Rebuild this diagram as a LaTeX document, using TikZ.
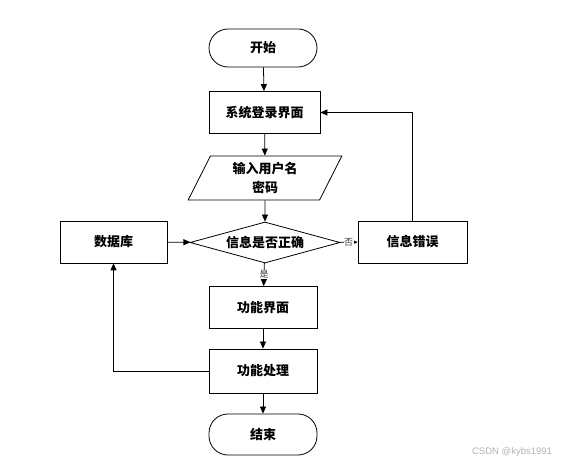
\documentclass[tikz,border=0pt]{standalone}
\usepackage{fontspec}
\newfontfamily\cjk{Noto Sans CJK SC}
\newfontfamily\wmfont{Liberation Sans}
\usetikzlibrary{arrows.meta,shapes.geometric}

\begin{document}
\begin{tikzpicture}[x=1pt, y=-1pt, >={Triangle[length=7pt,width=6pt]},
  line width=0.8pt,
  cntext/.style={font=\cjk\bfseries\fontsize{13}{19}\selectfont},
  box/.style={draw, fill=white, cntext, minimum width=108pt, minimum height=42pt},
  term/.style={box, rounded corners=19pt, minimum height=38pt},
  iobox/.style={draw, fill=white, cntext, align=center, trapezium,
    trapezium left angle=69, trapezium right angle=111,
    trapezium stretches=true, minimum width=154pt, minimum height=44pt},
  check/.style={draw, fill=white, cntext, diamond, inner sep=0pt,
    shape aspect=3.66, minimum width=150pt, minimum height=41pt},
  yesno/.style={fill=white, inner sep=0.5pt, text=black!75,
    font=\cjk\fontsize{9}{10}\selectfont}]
\useasboundingbox (0,0) rectangle (582,465);

% main column
\node[term] (start) at (263,48) {开始};
\node[box, minimum width=111pt] (login) at (264.5,112.5) {系统登录界面};
\node[iobox] (input) at (265,178) {输入用户名\\密码};
\node[check] (ok) at (265,242.5) {信息是否正确};
\node[box] (func) at (263,307.5) {功能界面};
\node[box, minimum height=44pt] (proc) at (263,371) {功能处理};
\node[term, minimum height=41pt] (stop) at (263,434.5) {结束};

% side boxes
\node[box, minimum width=107pt] (db) at (113.5,242) {数据库};
\node[box, minimum width=109pt] (err) at (412.5,242) {信息错误};

% connectors
\draw[->] (start) -- (login);
\draw[->] (login) -- (input);
\draw[->] (input) -- (ok);
\draw[->] (db) -- (ok);
\draw[->] (ok) -- node[yesno] {否} (err);
\draw[->] (ok) -- node[yesno] {是} (func);
\draw[->] (func) -- (proc);
\draw[->] (proc) -- (stop);
\draw[->] (err.north) |- (login.east);
\draw[->] (proc.west) -| (db.south);

% watermark
\node[text=black!30, font=\wmfont\fontsize{9.5}{11}\selectfont] (mark) at (512,452) {CSDN @kybs1991};
\end{tikzpicture}
\end{document}
